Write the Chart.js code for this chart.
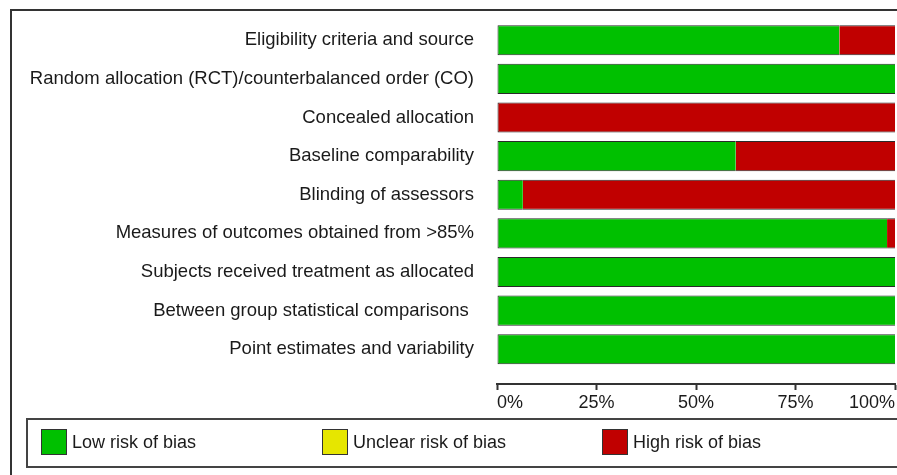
<!DOCTYPE html>
<html>
<head>
  <title>Risk of bias</title>
  <script src="https://cdn.jsdelivr.net/npm/chart.js"></script>
  <style>
    body {
      margin: 0;
      background-color: white;
      font-family: 'Liberation Sans', Arial, sans-serif;
      overflow: hidden;
    }

    .frame {
      position: absolute;
      left: 10px;
      top: 9px;
      width: 1000px;
      height: 600px;
      border: 2px solid #333;
    }

    .chart-container {
      position: absolute;
      left: 0;
      top: 0;
      width: 897px;
      height: 475px;
    }

    .legend-container {
      position: absolute;
      left: 26px;
      top: 418px;
      width: 1000px;
      height: 46px;
      border: 2px solid #444;
    }

    .legend-item {
      position: absolute;
      top: 9px;
      display: flex;
      align-items: center;
      font-size: 18px;
      color: #1a1a1a;
    }

    .legend-color {
      width: 24px;
      height: 24px;
      border: 1px solid #333;
      margin-right: 5px;
    }
  </style>
</head>
<body>
  <div class="frame"></div>
  <div class="chart-container">
    <canvas id="robChart"></canvas>
  </div>
  <div class="legend-container" id="legendContainer"></div>

  <script>
    // Domains, top to bottom
    const categories = [
      'Eligibility criteria and source',
      'Random allocation (RCT)/counterbalanced order (CO)',
      'Concealed allocation',
      'Baseline comparability',
      'Blinding of assessors',
      'Measures of outcomes obtained from >85%',
      'Subjects received treatment as allocated',
      'Between group statistical comparisons ',
      'Point estimates and variability'
    ];

    // Percent of studies per judgement
    const lowRisk = [86, 100, 0, 60, 6.5, 98, 100, 100, 100];
    const unclearRisk = [0, 0, 0, 0, 0, 0, 0, 0, 0];
    const highRisk = [14, 0, 100, 40, 93.5, 2, 0, 0, 0];

    const seriesNames = ['Low risk of bias', 'Unclear risk of bias', 'High risk of bias'];
    const seriesColors = ['#00c000', '#e6e600', '#c00000'];
    const seriesValues = [lowRisk, unclearRisk, highRisk];

    const xTicks = [0, 25, 50, 75, 100];

    // left border only on the segment that starts at 0
    function segmentBorder(ctx) {
      let before = 0;
      for (let d = 0; d < ctx.datasetIndex; d++) {
        before += seriesValues[d][ctx.dataIndex];
      }
      return { top: 1, bottom: 1, left: before === 0 ? 1 : 0, right: 0 };
    }

    const datasets = seriesNames.map((name, s) => ({
      label: name,
      data: seriesValues[s].map((v, i) => ({ x: v, y: i })),
      backgroundColor: seriesColors[s],
      borderColor: '#2a2a2a',
      borderWidth: segmentBorder,
      borderSkipped: false,
      barPercentage: 0.78,
      categoryPercentage: 1
    }));

    Chart.defaults.font.family = "'Liberation Sans', Arial, sans-serif";
    Chart.defaults.font.size = 18;
    Chart.defaults.color = '#1a1a1a';

    const ctx = document.getElementById('robChart').getContext('2d');

    new Chart(ctx, {
      type: 'bar',
      data: { datasets: datasets },
      options: {
        indexAxis: 'y',
        responsive: true,
        maintainAspectRatio: false,
        animation: false,
        layout: {
          padding: { top: 19, right: 1, left: 0, bottom: 0 }
        },
        scales: {
          x: {
            type: 'linear',
            stacked: true,
            min: 0,
            max: 100,
            afterBuildTicks: function(scale) {
              scale.ticks = xTicks.map(v => ({ value: v }));
            },
            afterFit: function(scale) {
              scale.height = 91;
            },
            ticks: {
              align: 'inner',
              padding: 2,
              color: '#1a1a1a',
              callback: function(value) {
                return value + '%';
              }
            },
            grid: {
              drawOnChartArea: false,
              tickLength: 6,
              tickWidth: 2,
              color: '#333'
            },
            border: {
              color: '#333',
              width: 2
            }
          },
          y: {
            type: 'linear',
            stacked: true,
            reverse: true,
            offset: false,
            bounds: 'data',
            min: -0.55,
            max: 8.9,
            afterBuildTicks: function(scale) {
              scale.ticks = categories.map((c, i) => ({ value: i }));
            },
            afterFit: function(scale) {
              scale.width = 497;
              scale.paddingTop = 0;
              scale.paddingBottom = 0;
            },
            ticks: {
              padding: 23,
              color: '#1a1a1a',
              font: { size: 18.5 },
              callback: function(value) {
                return categories[value];
              }
            },
            grid: { display: false, drawTicks: false },
            border: { display: false }
          }
        },
        plugins: {
          legend: { display: false },
          tooltip: {
            callbacks: {
              title: function(items) {
                return categories[items[0].parsed.y];
              },
              label: function(item) {
                return item.dataset.label + ': ' + item.parsed.x + '%';
              }
            }
          }
        }
      }
    });

    // Legend box under the axis
    const legendContainer = document.getElementById('legendContainer');
    const legendLeft = [13, 294, 574];

    seriesNames.forEach((name, s) => {
      const legendItem = document.createElement('div');
      legendItem.className = 'legend-item';
      legendItem.style.left = legendLeft[s] + 'px';

      const colorBox = document.createElement('div');
      colorBox.className = 'legend-color';
      colorBox.style.backgroundColor = seriesColors[s];

      const label = document.createElement('span');
      label.textContent = name;

      legendItem.appendChild(colorBox);
      legendItem.appendChild(label);
      legendContainer.appendChild(legendItem);
    });
  </script>
</body>
</html>
